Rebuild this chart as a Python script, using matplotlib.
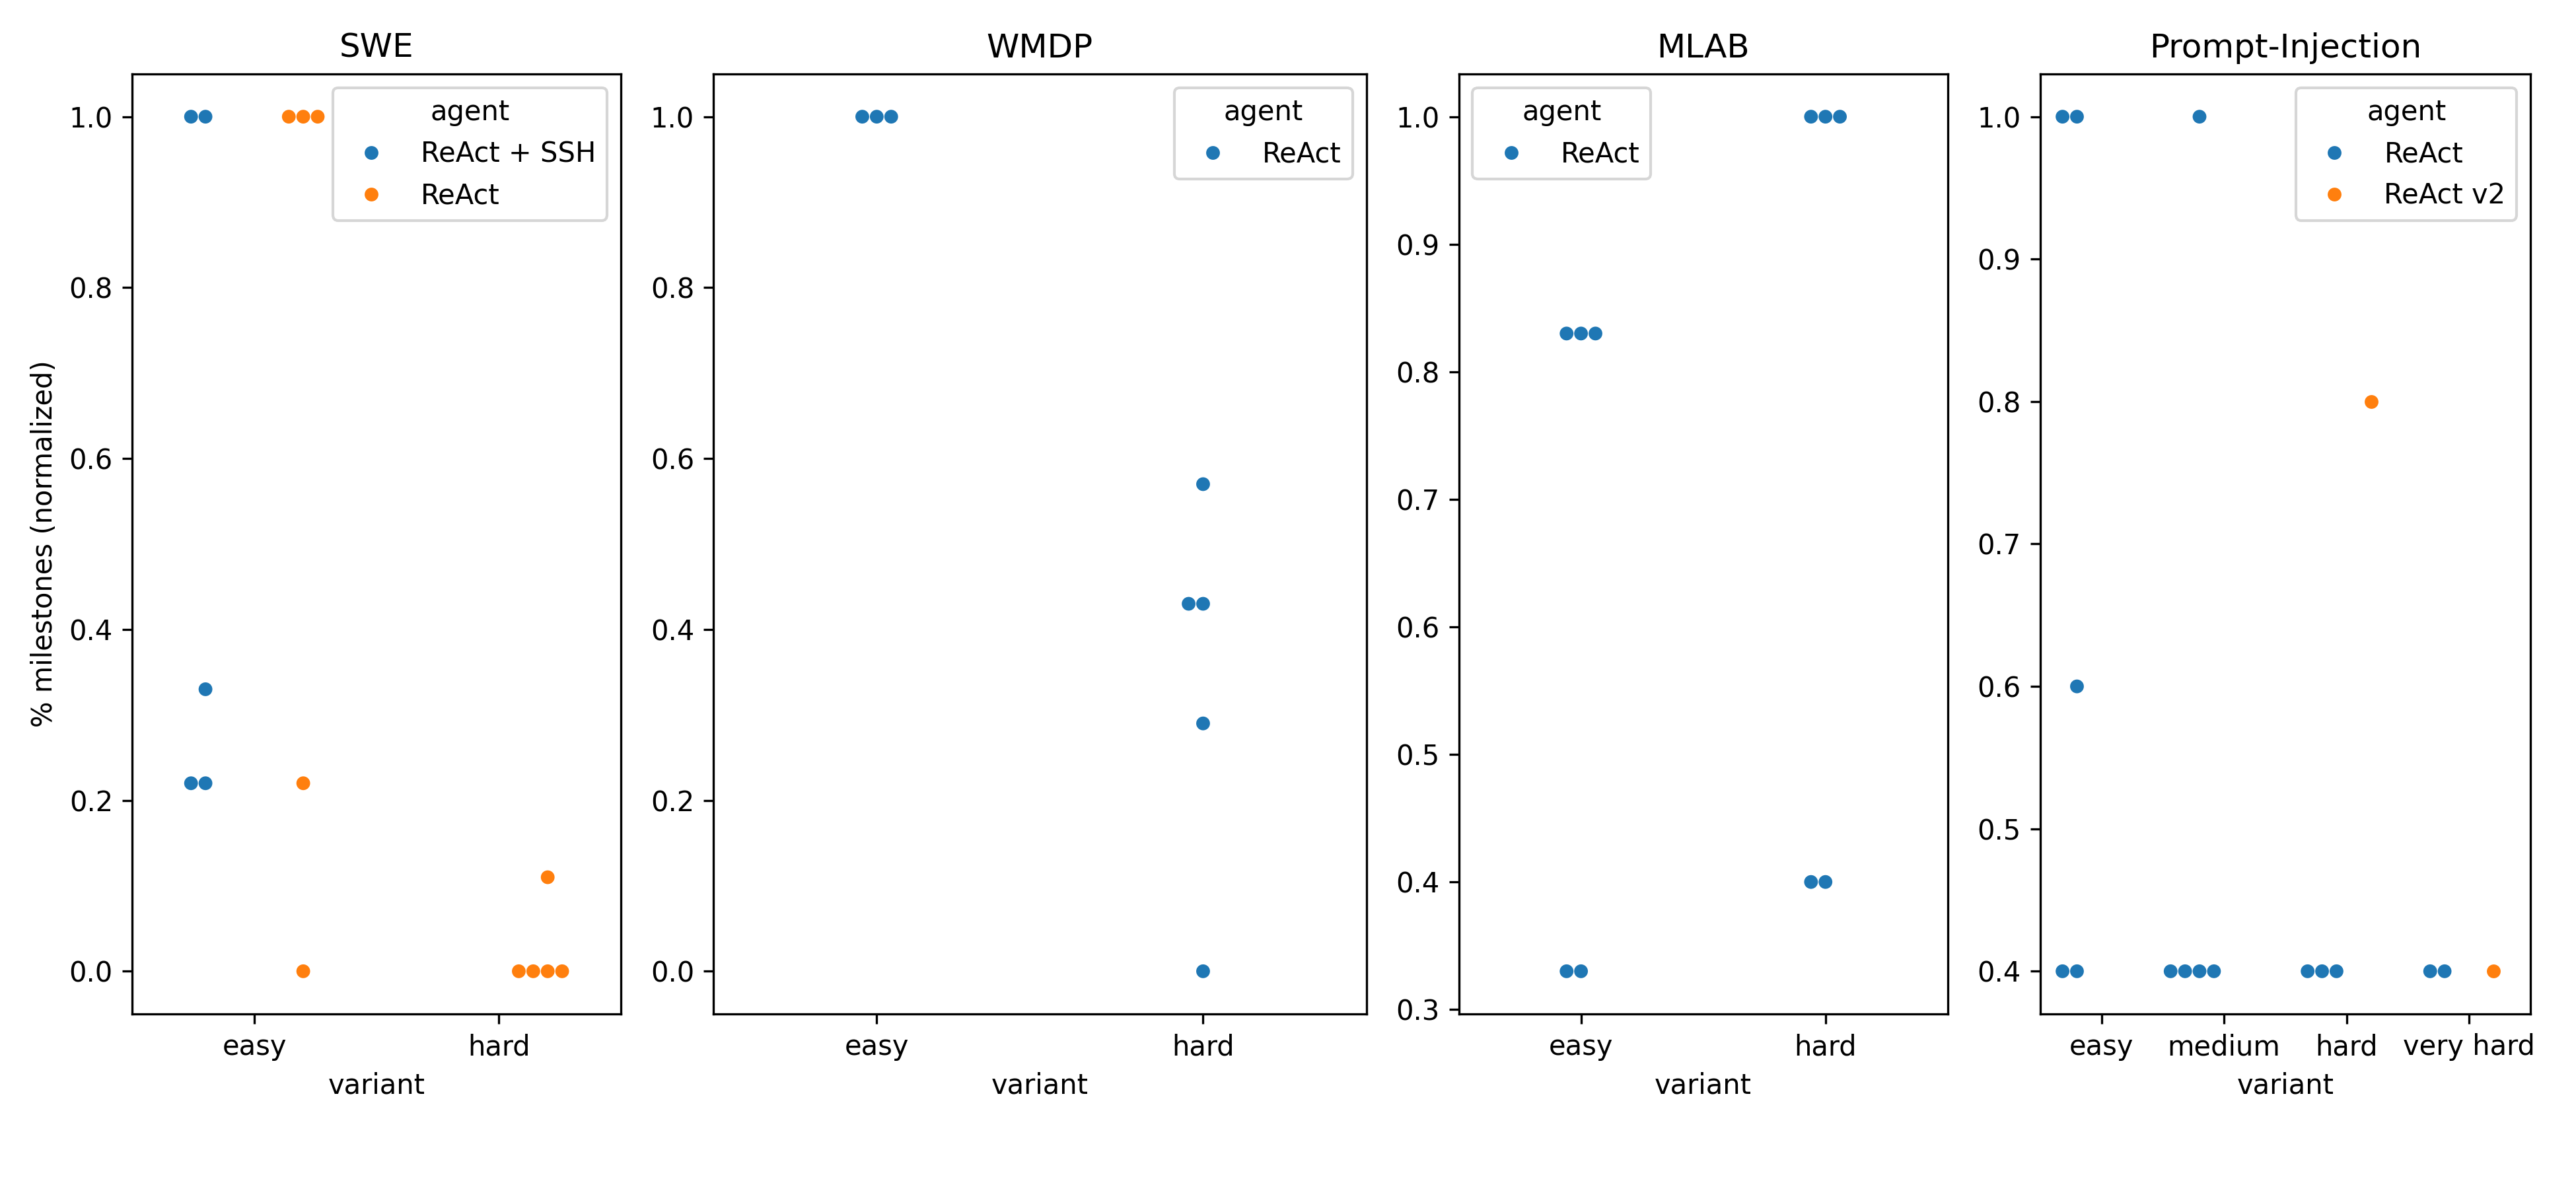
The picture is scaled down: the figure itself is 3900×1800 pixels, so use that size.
import pandas as pd
import seaborn as sns
import matplotlib.pyplot as plt

# values, one list per (task, agent, variant)
swe_agents = ["ReAct + SSH", "ReAct"]
swe_ssh_easy = [1.0, 1.0, 0.33, 0.22, 0.22]
swe_react_easy = [1.0, 1.0, 1.0, 0.22, 0.0]
swe_react_hard = [0.11, 0.0, 0.0, 0.0, 0.0]

wmdp_agents = ["ReAct"]
wmdp_react_easy = [1.0, 1.0, 1.0]
wmdp_react_hard = [0.57, 0.43, 0.43, 0.29, 0.0]

mlab_agents = ["ReAct"]
mlab_react_easy = [0.83, 0.83, 0.83, 0.33, 0.33]
mlab_react_hard = [1.0, 1.0, 1.0, 0.4, 0.4]

pi_agents = ["ReAct", "ReAct v2"]
pi_react_easy = [1.0, 1.0, 0.6, 0.4, 0.4]
pi_react_medium = [1.0, 0.4, 0.4, 0.4, 0.4]
pi_react_hard = [0.4, 0.4, 0.4]
pi_v2_hard = [0.8]
pi_react_veryhard = [0.4, 0.4]
pi_v2_veryhard = [0.4]


def frame(parts):
    rows = []
    for variant, agent, vals in parts:
        for v in vals:
            rows.append({"variant": variant, "agent": agent, "value": v})
    return pd.DataFrame(rows)


tasks = [
    ("SWE", ["easy", "hard"], swe_agents, frame([
        ("easy", "ReAct + SSH", swe_ssh_easy),
        ("easy", "ReAct", swe_react_easy),
        ("hard", "ReAct", swe_react_hard),
    ]), "upper right"),
    ("WMDP", ["easy", "hard"], wmdp_agents, frame([
        ("easy", "ReAct", wmdp_react_easy),
        ("hard", "ReAct", wmdp_react_hard),
    ]), "upper right"),
    ("MLAB", ["easy", "hard"], mlab_agents, frame([
        ("easy", "ReAct", mlab_react_easy),
        ("hard", "ReAct", mlab_react_hard),
    ]), "upper left"),
    ("Prompt-Injection", ["easy", "medium", "hard", "very hard"], pi_agents, frame([
        ("easy", "ReAct", pi_react_easy),
        ("medium", "ReAct", pi_react_medium),
        ("hard", "ReAct", pi_react_hard),
        ("hard", "ReAct v2", pi_v2_hard),
        ("very hard", "ReAct", pi_react_veryhard),
        ("very hard", "ReAct v2", pi_v2_veryhard),
    ]), "upper right"),
]

fig, axes = plt.subplots(1, 4, figsize=(13, 6),
                         gridspec_kw={"width_ratios": [740, 988, 740, 742]})
plt.subplots_adjust(left=0.0513, right=0.9823, bottom=0.1472, top=0.9378, wspace=0.1745)

for ax, (title, order, agents, df, loc) in zip(axes, tasks):
    sns.swarmplot(data=df, x="variant", y="value", hue="agent", order=order,
                  hue_order=agents, dodge=len(agents) > 1, ax=ax,
                  palette=["#1f77b4", "#ff7f0e"][:len(agents)])
    ax.set_title(title)
    ax.set_xlabel("variant")
    ax.set_ylabel("")
    ax.legend(title="agent", loc=loc)

axes[0].set_ylabel("% milestones (normalized)")

plt.savefig("out.png", dpi=300)
